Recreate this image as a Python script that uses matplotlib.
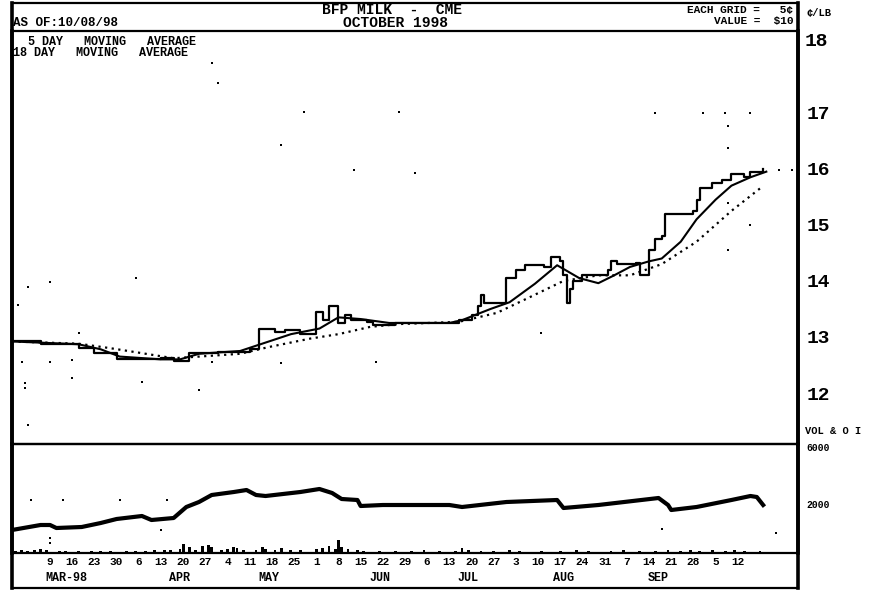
import matplotlib
matplotlib.use("Agg")
import matplotlib.pyplot as plt
import numpy as np
import pandas as pd

plt.rcParams['font.family'] = ['Liberation Mono', 'DejaVu Sans Mono']
plt.rcParams['font.weight'] = 'bold'

# x values are calendar days after Monday 1998-03-09
base = pd.Timestamp('1998-03-09')

# daily settle (step line)
close_day = [-12, -3, 9, 14, 21, 35, 39, 44, 53, 63, 66, 71, 74, 79, 84, 86, 88, 91, 93, 95,
             100, 102, 109, 129, 133, 135, 136, 137, 144, 147, 150, 156, 158, 161, 162, 163, 164, 165, 168, 176,
             177, 179, 185, 186, 189, 191, 193, 194, 203, 204, 205, 209, 212, 215, 219, 221, 225]
close_px = [12.92, 12.88, 12.80, 12.72, 12.60, 12.62, 12.57, 12.72, 12.74, 12.78, 13.15, 13.08, 13.12, 13.05, 13.45, 13.30, 13.55, 13.25, 13.40, 13.30,
            13.27, 13.22, 13.25, 13.30, 13.40, 13.55, 13.75, 13.60, 14.05, 14.20, 14.28, 14.25, 14.42, 14.35, 14.10, 13.60, 13.85, 14.00, 14.10, 14.20,
            14.35, 14.30, 14.32, 14.10, 14.55, 14.75, 14.80, 15.20, 15.25, 15.45, 15.65, 15.75, 15.80, 15.90, 15.85, 15.95, 16.00]

# short moving average (solid)
ma5_day = [-12, 9, 16, 22, 35, 41, 47, 60, 68, 76, 85, 91, 98, 107, 126, 130, 139, 145, 153, 160,
           167, 173, 178, 183, 189, 193, 199, 204, 210, 215, 221, 226]
ma5_px = [12.92, 12.87, 12.78, 12.65, 12.60, 12.60, 12.70, 12.75, 12.90, 13.05, 13.15, 13.35, 13.32, 13.25, 13.25, 13.30, 13.50, 13.62, 13.95, 14.28,
          14.05, 13.96, 14.10, 14.25, 14.35, 14.40, 14.70, 15.10, 15.45, 15.70, 15.85, 15.95]

# 18 day moving average (dotted)
ma18_day = [-12, 9, 19, 28, 39, 47, 60, 69, 82, 91, 101, 110, 129, 141, 151, 162, 173, 183, 193, 204, 215, 224]
ma18_px = [12.92, 12.88, 12.80, 12.72, 12.62, 12.65, 12.70, 12.82, 12.97, 13.05, 13.18, 13.23, 13.27, 13.43, 13.70,
           14.00, 14.10, 14.10, 14.30, 14.70, 15.25, 15.65]

# isolated prints scattered over the price panel
stray_day = [51, 53, 80, 110, 73, 96, 115, 191, 206, 213, 221, 214, 214, 230, 234, 155, 221, 214, 214,
             -7, 0, 27, -10, 9, -9, 0, 7, 51, 73, 103, -8, -8, 7, 29, 47, -7]
stray_px = [17.89, 17.54, 17.02, 17.02, 16.43, 15.98, 15.93, 17.0, 17.0, 17.0, 17.0, 16.77, 16.38, 15.98, 15.98, 13.07, 15.0, 14.55, 15.39,
            13.89, 13.98, 14.05, 13.57, 13.07, 12.55, 12.55, 12.59, 12.55, 12.54, 12.55, 12.18, 12.09, 12.27, 12.2, 12.05, 11.43]

# open interest
oi_day = [-12, -3, 0, 2, 10, 16, 21, 29, 32, 39, 43, 47, 51, 58, 62, 65, 68, 79, 85, 89, 92, 97, 98, 105,
          126, 130, 144, 160, 162, 173, 192, 195, 196, 204, 215, 221, 223, 225]
oi = [180, 530, 530, 320, 390, 670, 950, 1160, 880, 1020, 1790, 2140, 2630, 2840, 2980, 2630, 2560, 2840, 3050, 2770, 2350, 2280, 1860, 1930,
      1930, 1790, 2140, 2280, 1720, 1930, 2420, 1930, 1580, 1790, 2280, 2560, 2490, 1930]
oi_stray_day = [-6, 4, 22, 37, 35, 0, 0, 193, 229]
oi_stray = [2280, 2280, 2280, 2280, 180, -380, -700, 250, -30]

# daily volume
vol_day = [-11, -9, -7, -5, -3, -1, 3, 5, 9, 13, 16, 19, 24, 27, 30, 33, 36, 38, 41, 42, 44, 46, 48, 50, 51, 54, 56, 58, 59, 61,
           65, 67, 68, 71, 73, 76, 79, 84, 86, 88, 90, 91, 92, 94, 97, 99, 104, 109, 114, 118, 123, 128, 130, 132, 136, 140,
           145, 148, 155, 161, 166, 170, 177, 181, 186, 191, 195, 199, 202, 205, 209, 213, 216, 219, 224]
vol = [30, 40, 30, 40, 55, 40, 30, 30, 30, 30, 30, 30, 30, 30, 30, 40, 40, 40, 55, 125, 85, 40, 100, 110, 85, 40, 55, 85, 70, 40,
       40, 85, 55, 40, 70, 40, 40, 55, 70, 100, 55, 180, 85, 55, 40, 30, 30, 30, 30, 40, 30, 30, 70, 40, 30, 30,
       40, 30, 30, 30, 40, 30, 30, 40, 30, 30, 40, 30, 40, 30, 40, 30, 40, 30, 30]

price_ticks = [12, 13, 14, 15, 16, 17]
month_labels = ['MAR-98', 'APR', 'MAY', 'JUN', 'JUL', 'AUG', 'SEP']
month_day = [5, 41, 69, 104, 132, 162, 192]
mondays = pd.date_range('1998-03-09', '1998-10-12', freq='W-MON')

W, H = 888, 593


def fx(x):
    return x / W


def fy(y):
    return 1 - y / H


fig = plt.figure(figsize=(W / 100, H / 100), dpi=100)

# outer box
frame = fig.add_axes([fx(12), fy(588), fx(786), 585 / H])
frame.set_xticks([])
frame.set_yticks([])
frame.patch.set_alpha(0)
for s in ['left', 'right']:
    frame.spines[s].set_linewidth(2.6)
for s in ['top', 'bottom']:
    frame.spines[s].set_linewidth(1.6)

xlim = (-12, 236)

# price panel
ax = fig.add_axes([fx(12), fy(444), fx(786), 413 / H])
ax.patch.set_alpha(0)
ax.plot(close_day, close_px, drawstyle='steps-post', color='black', lw=1.6)
ax.plot(ma5_day, ma5_px, color='black', lw=1.5)
ax.plot(ma18_day, ma18_px, color='black', lw=1.6, linestyle=(0, (1, 2)))
ax.scatter(stray_day, stray_px, s=3, marker='s', color='black', lw=0)
ax.set_xlim(*xlim)
ax.set_ylim(11.09, 18.46)
ax.set_xticks([])
ax.yaxis.tick_right()
ax.set_yticks(price_ticks)
ax.set_yticklabels([str(t) for t in price_ticks], fontsize=14, fontweight='bold')
ax.tick_params(axis='y', length=0, pad=6)
for s in ['left', 'right']:
    ax.spines[s].set_linewidth(2.6)
for s in ['top', 'bottom']:
    ax.spines[s].set_linewidth(1.6)

ax.text(0.003, 0.987, '  5 DAY   MOVING   AVERAGE', transform=ax.transAxes, fontsize=8.5, va='top', ha='left')
ax.text(0.001, 0.962, '18 DAY   MOVING   AVERAGE', transform=ax.transAxes, fontsize=8.5, va='top', ha='left')

# volume / open interest panel
ax2 = fig.add_axes([fx(12), fy(553), fx(786), 109 / H])
ax2.patch.set_alpha(0)
axv = ax2.twinx()
axv.bar(vol_day, vol, width=0.9, color='black')
axv.set_ylim(0, 1500)
axv.set_yticks([])
for s in axv.spines.values():
    s.set_visible(False)

ax2.plot(oi_day, oi, color='black', lw=3)
ax2.scatter(oi_stray_day, oi_stray, s=3, marker='s', color='black', lw=0)
ax2.set_xlim(*xlim)
ax2.set_ylim(-1430, 6200)
ax2.yaxis.tick_right()
ax2.set_yticks([2000, 6000])
ax2.set_yticklabels(['2000', '6000'], fontsize=7, fontweight='bold')
ax2.tick_params(axis='y', length=0, pad=6, left=False, labelleft=False, right=True, labelright=True)
ax2.set_xticks((mondays - base).days)
ax2.set_xticklabels([str(d.day) for d in mondays], fontsize=8, fontweight='bold')
ax2.tick_params(axis='x', length=0, pad=3)
for s in ['left', 'right']:
    ax2.spines[s].set_linewidth(2.6)
for s in ['top', 'bottom']:
    ax2.spines[s].set_linewidth(1.6)

for lab, d in zip(month_labels, month_day):
    ax2.text(d, -0.23, lab, transform=ax2.get_xaxis_transform(), fontsize=8.5, ha='center', va='center')

# header texts
fig.text(fx(392), fy(10), 'BFP MILK  -  CME', fontsize=10.5, ha='center', va='center')
fig.text(fx(395), fy(23), 'OCTOBER 1998', fontsize=10.5, ha='center', va='center')
fig.text(fx(13), fy(23), 'AS OF:10/08/98', fontsize=9, ha='left', va='center')
fig.text(fx(793), fy(10), 'EACH GRID =   5¢', fontsize=8, ha='right', va='center')
fig.text(fx(793), fy(21), 'VALUE =  $10', fontsize=8, ha='right', va='center')
fig.text(fx(806), fy(13), '¢/LB', fontsize=7.5, ha='left', va='center')
fig.text(fx(805), fy(41), '18', fontsize=14, ha='left', va='center')
fig.text(fx(805), fy(431), 'VOL & O I', fontsize=7.5, ha='left', va='center')

fig.savefig('out.png', dpi=100)
